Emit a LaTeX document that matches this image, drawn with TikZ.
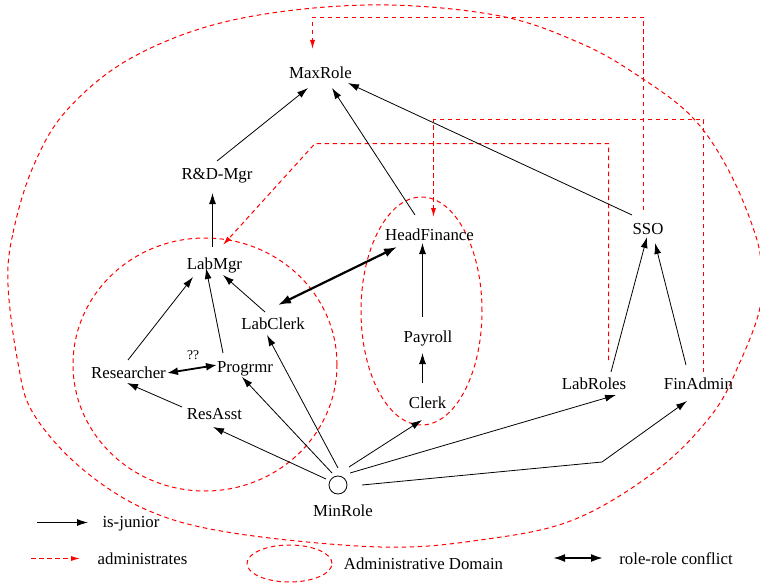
\documentclass[tikz,border=0pt]{standalone}
\usepackage{fontspec}
\setmainfont{Liberation Serif}
\usetikzlibrary{arrows.meta}
\definecolor{admred}{RGB}{255,0,0}
\begin{document}
\begin{tikzpicture}[x=1pt,y=-1pt,
  lbl/.style={font=\fontsize{16.8}{20}\selectfont, inner sep=0pt, text height=11pt, text depth=0pt},
  qlbl/.style={font=\fontsize{13.5}{15}\selectfont, inner sep=0pt},
  jr/.style={line width=0.8pt, -{Latex[length=11pt,width=7pt]}},
  adm/.style={draw=admred, dash pattern=on 4.5pt off 3.5pt, line width=1pt, -{Latex[length=9pt,width=5pt,fill=admred]}},
  conf/.style={line width=2.2pt, {Latex[length=13pt,width=9pt]}-{Latex[length=13pt,width=9pt]}},
  dom/.style={draw=admred, dash pattern=on 4.5pt off 3.5pt, line width=1pt}]
\useasboundingbox (0,0) rectangle (760,586);

% administrative domains
\draw[dom] plot[smooth cycle, tension=0.6] coordinates {
  (8,285) (13,233) (33,167) (67,110) (133,57) (233,20) (367,5) (495,15)
  (580,43) (640,77) (693,118) (730,173) (757,240) (761,278) (759,312)
  (740,362) (713,413) (657,470) (573,520) (480,540) (380,547) (233,533)
  (147,510) (80,467) (33,413) (18,363)};
\draw[dom] (205,364.5) ellipse [x radius=132pt, y radius=126.5pt];
\draw[dom] (421.5,311) ellipse [x radius=60.5pt, y radius=114pt];

% roles
\node[lbl] (maxrole) at (320.5,72.5) {MaxRole};
\node[lbl] (rd) at (217,174) {R\&D-Mgr};
\node[lbl] (labmgr) at (214.5,264) {LabMgr};
\node[lbl] (headfin) at (429.5,235) {HeadFinance};
\node[lbl] (sso) at (648,228.5) {SSO};
\node[lbl] (labclerk) at (273,324) {LabClerk};
\node[lbl] (researcher) at (128.5,372.5) {Researcher};
\node[lbl] (progrmr) at (245,367) {Progrmr};
\node[lbl] (resasst) at (214.5,414) {ResAsst};
\node[lbl] (payroll) at (428,337) {Payroll};
\node[lbl] (clerk) at (427.5,403) {Clerk};
\node[lbl] (labroles) at (594,384) {LabRoles};
\node[lbl] (finadmin) at (698.5,384) {FinAdmin};
\node[draw, circle, minimum size=18pt, inner sep=0pt, line width=0.8pt] (minrole) at (338,485) {};
\node[lbl] (minlbl) at (343,510.5) {MinRole};
\node[qlbl] (qq) at (193,355) {??};
\coordinate (bend) at (602,462);

% administrates
\draw[adm] ([shift={(-4.5,-18.5)}]sso.center) -- ++(0,-192.5) -- ++(-331,0) -- ([shift={(-8,-23.5)}]maxrole.center);
\draw[adm] ([shift={(14.5,-24)}]labroles.center) -- ++(0,-216.5) -- ++(-293.5,0) -- ([shift={(8.5,-19)}]labmgr.center);
\draw[adm] ([shift={(5,-12)}]finadmin.center) -- ++(0,-252.5) -- ++(-270,0) -- ([shift={(4,-18)}]headfin.center);

% is-junior
\draw[jr] ([shift={(0,-13)}]rd.center) -- ([shift={(-12.5,15.5)}]maxrole.center);
\draw[jr] ([shift={(-14.5,-20)}]headfin.center) -- ([shift={(11.5,15.5)}]maxrole.center);
\draw[jr] ([shift={(-16,-13.5)}]sso.center) -- ([shift={(27.5,10.5)}]maxrole.center);
\draw[jr] ([shift={(-2,-17)}]labmgr.center) -- ([shift={(-4.5,19)}]rd.center);
\draw[jr] ([shift={(-0.5,-12.5)}]researcher.center) -- ([shift={(-21.5,13)}]labmgr.center);
\draw[jr] ([shift={(-22,-14)}]progrmr.center) -- ([shift={(-8.5,4)}]labmgr.center);
\draw[jr] ([shift={(-8,-12)}]labclerk.center) -- ([shift={(8.5,11)}]labmgr.center);
\draw[jr] ([shift={(-32.5,-7)}]resasst.center) -- ([shift={(-1.5,10.5)}]researcher.center);
\draw[jr] ([shift={(-12,-6)}]minrole.center) -- ([shift={(-1.5,13)}]resasst.center);
\draw[jr] ([shift={(-6,-12)}]minrole.center) -- ([shift={(-3,10)}]progrmr.center);
\draw[jr] ([shift={(0,-17)}]minrole.center) -- ([shift={(-6,11)}]labclerk.center);
\draw[jr] ([shift={(11,-18)}]minrole.center) -- ([shift={(-5.5,17)}]clerk.center);
\draw[jr] ([shift={(12,-12)}]minrole.center) -- ([shift={(22,11)}]labroles.center);
\draw[jr] ([shift={(24,0)}]minrole.center) -- (bend) -- ([shift={(-11.5,17)}]finadmin.center);
\draw[jr] ([shift={(-5,-20)}]clerk.center) -- ([shift={(-5.5,16)}]payroll.center);
\draw[jr] ([shift={(-5.5,-20)}]payroll.center) -- ([shift={(-7,8)}]headfin.center);
\draw[jr] ([shift={(17,-12)}]labroles.center) -- ([shift={(-1,8.5)}]sso.center);
\draw[jr] ([shift={(-12.5,-19)}]finadmin.center) -- ([shift={(7,14.5)}]sso.center);

% conflicts
\draw[conf] ([shift={(-32.5,12)}]headfin.center) -- ([shift={(5,-19)}]labclerk.center);
\draw[line width=1.8pt, {Latex[length=11pt,width=8pt]}-{Latex[length=11pt,width=8pt]}]
  ([shift={(38.5,0.5)}]researcher.center) -- ([shift={(-28,-2)}]progrmr.center);

% legend
\coordinate (lja) at (37,522.5); \coordinate (ljb) at (88,522.5);
\draw[jr] (lja) -- (ljb);
\node[lbl] (ljt) at (131,521.5) {is-junior};
\coordinate (laa) at (31,558.5); \coordinate (lab) at (80,558.5);
\draw[adm] (laa) -- (lab);
\node[lbl] (lat) at (142.5,558.5) {administrates};
\draw[dom] (289.5,563.5) ellipse [x radius=42.5pt, y radius=18.5pt];
\node[lbl] (ldt) at (423.5,564) {Administrative Domain};
\coordinate (lca) at (553,558); \coordinate (lcb) at (603,558);
\draw[line width=2pt, {Latex[length=12pt,width=8pt]}-{Latex[length=12pt,width=8pt]}] (lca) -- (lcb);
\node[lbl] (lct) at (676,558.5) {role-role conflict};
\end{tikzpicture}
\end{document}
